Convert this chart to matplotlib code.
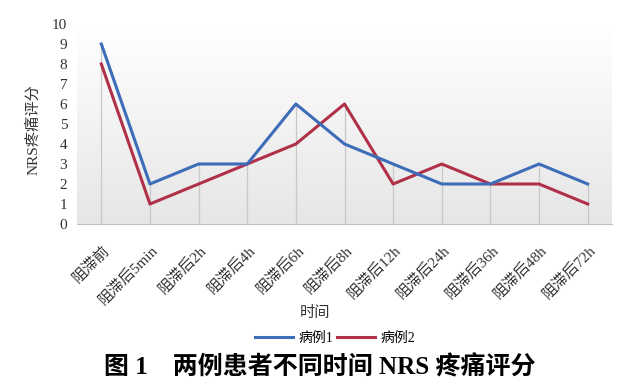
import numpy as np
import matplotlib.pyplot as plt
from matplotlib.transforms import offset_copy, blended_transform_factory

plt.rcParams['font.family'] = ['Liberation Serif', 'Noto Sans CJK SC']

# 数据
labels = ['阻滞前', '阻滞后5min', '阻滞后2h', '阻滞后4h', '阻滞后6h', '阻滞后8h',
          '阻滞后12h', '阻滞后24h', '阻滞后36h', '阻滞后48h', '阻滞后72h']
case1 = [9, 2, 3, 3, 6, 4, 3, 2, 2, 3, 2]
case2 = [8, 1, 2, 3, 4, 6, 2, 3, 2, 2, 1]
yticks = list(range(0, 11))

x = np.arange(len(labels))

fig = plt.figure(figsize=(6.21, 3.9), dpi=100)
ax = fig.add_axes([77/621, 1-224/390, 535/621, 200/390])

# background gradient (white -> light gray)
grad = np.linspace(1, 0, 256).reshape(-1, 1)
ax.imshow(grad, cmap=plt.cm.colors.LinearSegmentedColormap.from_list('g', ['#e6e6e6', '#ffffff']),
          extent=[-0.5, 10.5, 0, 10], aspect='auto', origin='upper', zorder=0)

# drop lines
top = np.maximum(case1, case2)
ax.vlines(x, 0, top, color='#c8c8c8', lw=0.9, zorder=1)

ax.plot(x, case1, color='#3d6cb8', lw=2.2, label='病例1', zorder=3)
ax.plot(x, case2, color='#b03048', lw=2.2, label='病例2', zorder=2)

ax.set_xlim(-0.5, 10.5)
ax.set_ylim(0, 10)
ax.set_yticks(yticks)
ax.set_xticks(x)
ax.set_xticklabels([])
ax.tick_params(axis='y', length=0, labelsize=11, labelcolor='#333333', pad=7)
ax.tick_params(axis='x', length=0)
for s in ['top', 'right', 'left']:
    ax.spines[s].set_visible(False)
ax.spines['bottom'].set_color('#bdbdbd')

# 类别标签
trans = offset_copy(blended_transform_factory(ax.transData, ax.transAxes), fig=fig, x=6, y=-24, units='dots')
for i, lab in enumerate(labels):
    ax.text(x[i], 0, lab, transform=trans, rotation=45, ha='right', va='center',
            rotation_mode='anchor', fontsize=11, color='#333333')

fig.text(33/621, 1-130/390, 'NRS疼痛评分', rotation=90, ha='center', va='center', fontsize=11, color='#333333')
fig.text(315/621, 1-313/390, '时间', ha='center', va='center', fontsize=11, color='#333333')

fig.legend(loc='center', bbox_to_anchor=(335/621, 1-338/390), ncol=2, frameon=False,
           fontsize=10, handlelength=2.7, columnspacing=0.3, handletextpad=0.4)

fig.text(320/621, 1-367/390, '图 1    两例患者不同时间 NRS 疼痛评分', ha='center', va='center',
         fontsize=18, fontweight='bold')

fig.savefig('out.png', dpi=100)
